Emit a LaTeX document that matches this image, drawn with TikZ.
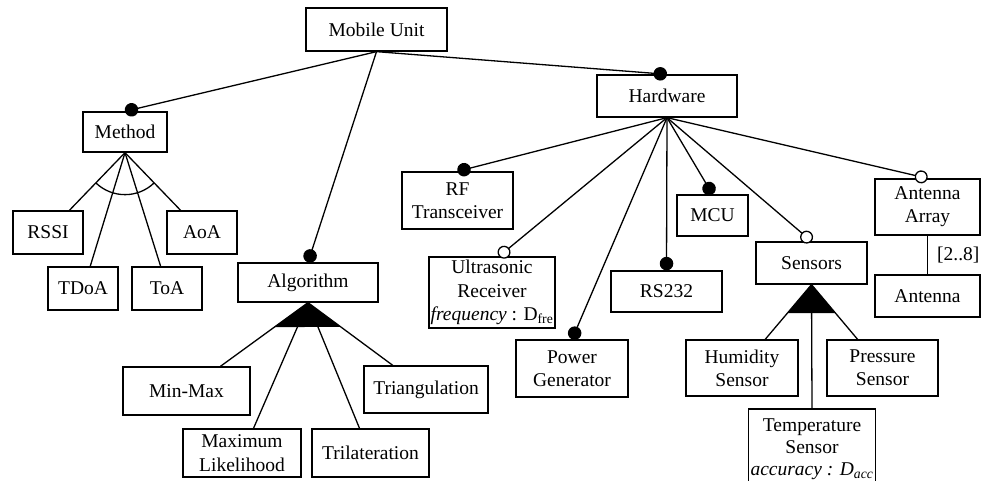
\documentclass[tikz,border=0pt]{standalone}
\usepackage{fontspec}
\setmainfont{Liberation Serif}
\usetikzlibrary{arrows.meta}
\usetikzlibrary{calc}

\begin{document}
\begin{tikzpicture}[x=1pt, y=-1pt,
  feature/.style={draw, line width=1.3pt, inner sep=0pt, align=center, font=\fontsize{19.5}{23.3}\selectfont},
  link/.style={line width=1.3pt},
  mandatory/.style={link, -{Circle[length=13.5pt]}},
  optional/.style={link, -{Circle[open, length=13pt, fill=white]}}]

  \useasboundingbox (0,0) rectangle (990,481);

  % Root
  \node[feature, minimum width=141pt, minimum height=43pt] (mobile) at (376.5,29.5) {Mobile Unit};

  % Method
  \node[feature, minimum width=84pt, minimum height=40pt] (method) at (125,132) {Method};
  \node[feature, minimum width=70pt, minimum height=43pt] (rssi) at (48,232.5) {RSSI};
  \node[feature, minimum width=70pt, minimum height=43pt] (aoa) at (202,232.5) {AoA};
  \node[feature, minimum width=70pt, minimum height=43pt] (tdoa) at (83,288.5) {TDoA};
  \node[feature, minimum width=70pt, minimum height=43pt] (toa) at (167,288.5) {ToA};
  \draw[mandatory] (mobile.south) -- (method.north);
  \draw[link] (method.south) -- (rssi.46);
  \draw[link] (method.south) -- (tdoa.72);
  \draw[link] (method.south) -- (toa.106);
  \draw[link] (method.south) -- (aoa.134);
  \draw[link] (method.south) ++(133.5:42) arc[start angle=133.5, end angle=46, radius=42];

  % Algorithm
  \node[feature, minimum width=140pt, minimum height=39pt] (alg) at (308,282.5) {Algorithm};
  \node[feature, minimum width=127pt, minimum height=48pt] (minmax) at (186.5,391) {Min-Max};
  \node[feature, minimum width=124pt, minimum height=47pt] (triang) at (426,389.5) {Triangulation};
  \node[feature, minimum width=118pt, minimum height=48pt] (maxlik) at (242,453) {Maximum\\Likelihood};
  \node[feature, minimum width=117pt, minimum height=48pt] (trilat) at (370.5,453) {Trilateration};
  \draw[mandatory] (mobile.south) -- (alg.north);
  \draw[link] (alg.south) -- (minmax.36);
  \draw[link] (alg.south) -- (maxlik.65);
  \draw[link] (alg.south) -- (trilat.114);
  \draw[link] (alg.south) -- (triang.144);
  \fill (alg.south) -- ($(alg.south)!0.385!(minmax.36)$) -- ($(alg.south)!0.385!(triang.144)$) -- cycle;

  % Hardware
  \node[feature, minimum width=140pt, minimum height=42pt] (hardware) at (667,96) {Hardware};
  \node[feature, minimum width=111pt, minimum height=57pt] (rf) at (457.5,200.5) {RF\\Transceiver};
  \node[feature, minimum width=126pt, minimum height=71pt] (ultra) at (492,292.5) {Ultrasonic\\Receiver\\\textit{frequency} : D\textsubscript{fre}};
  \node[feature, minimum width=112pt, minimum height=57pt] (power) at (572,368.5) {Power\\Generator};
  \node[feature, minimum width=111pt, minimum height=41pt] (rs) at (666.5,291.5) {RS232};
  \node[feature, minimum width=71pt, minimum height=41pt] (mcu) at (712.5,215.5) {MCU};
  \draw[mandatory] (mobile.south) -- (hardware.north);
  \draw[mandatory] (hardware.south) -- (rf.north);
  \draw[optional] (hardware.south) -- (ultra.79);
  \draw[mandatory] (hardware.south) -- (power.north);
  \draw[mandatory] (hardware.south) -- (rs.north);
  \draw[mandatory] (hardware.south) -- (mcu.north);

  % Sensors
  \node[feature, minimum width=111pt, minimum height=42pt] (sensors) at (811.5,263) {Sensors};
  \node[feature, minimum width=112pt, minimum height=56pt] (humid) at (742,368) {Humidity\\Sensor};
  \node[feature, minimum width=111pt, minimum height=56pt] (press) at (882.5,368) {Pressure\\Sensor};
  \node[feature, minimum width=127pt, minimum height=81pt, font=\fontsize{19.5}{22}\selectfont] (temp) at (812,449.5) {Temperature\\Sensor\\\textit{accuracy : D\textsubscript{acc}}};
  \draw[optional] (hardware.south) -- (sensors.north);
  \draw[link] (sensors.south) -- (humid.51);
  \draw[link] (sensors.south) -- (temp.north);
  \draw[link] (sensors.south) -- (press.131);
  \fill (sensors.south) -- ($(sensors.south)!0.52!(humid.51)$) -- ($(sensors.south)!0.52!(press.131)$) -- cycle;

  % Antenna
  \node[feature, minimum width=105pt, minimum height=56pt] (antarr) at (927.5,207) {Antenna\\Array};
  \node[feature, minimum width=105pt, minimum height=42pt] (ant) at (927.5,296) {Antenna};
  \draw[optional] (hardware.south) -- (antarr.north);
  \draw[link] (antarr.south) -- node[right, inner sep=9pt, font=\fontsize{19.5}{23.3}\selectfont] (card) {[2..8]} (ant.north);

\end{tikzpicture}
\end{document}
